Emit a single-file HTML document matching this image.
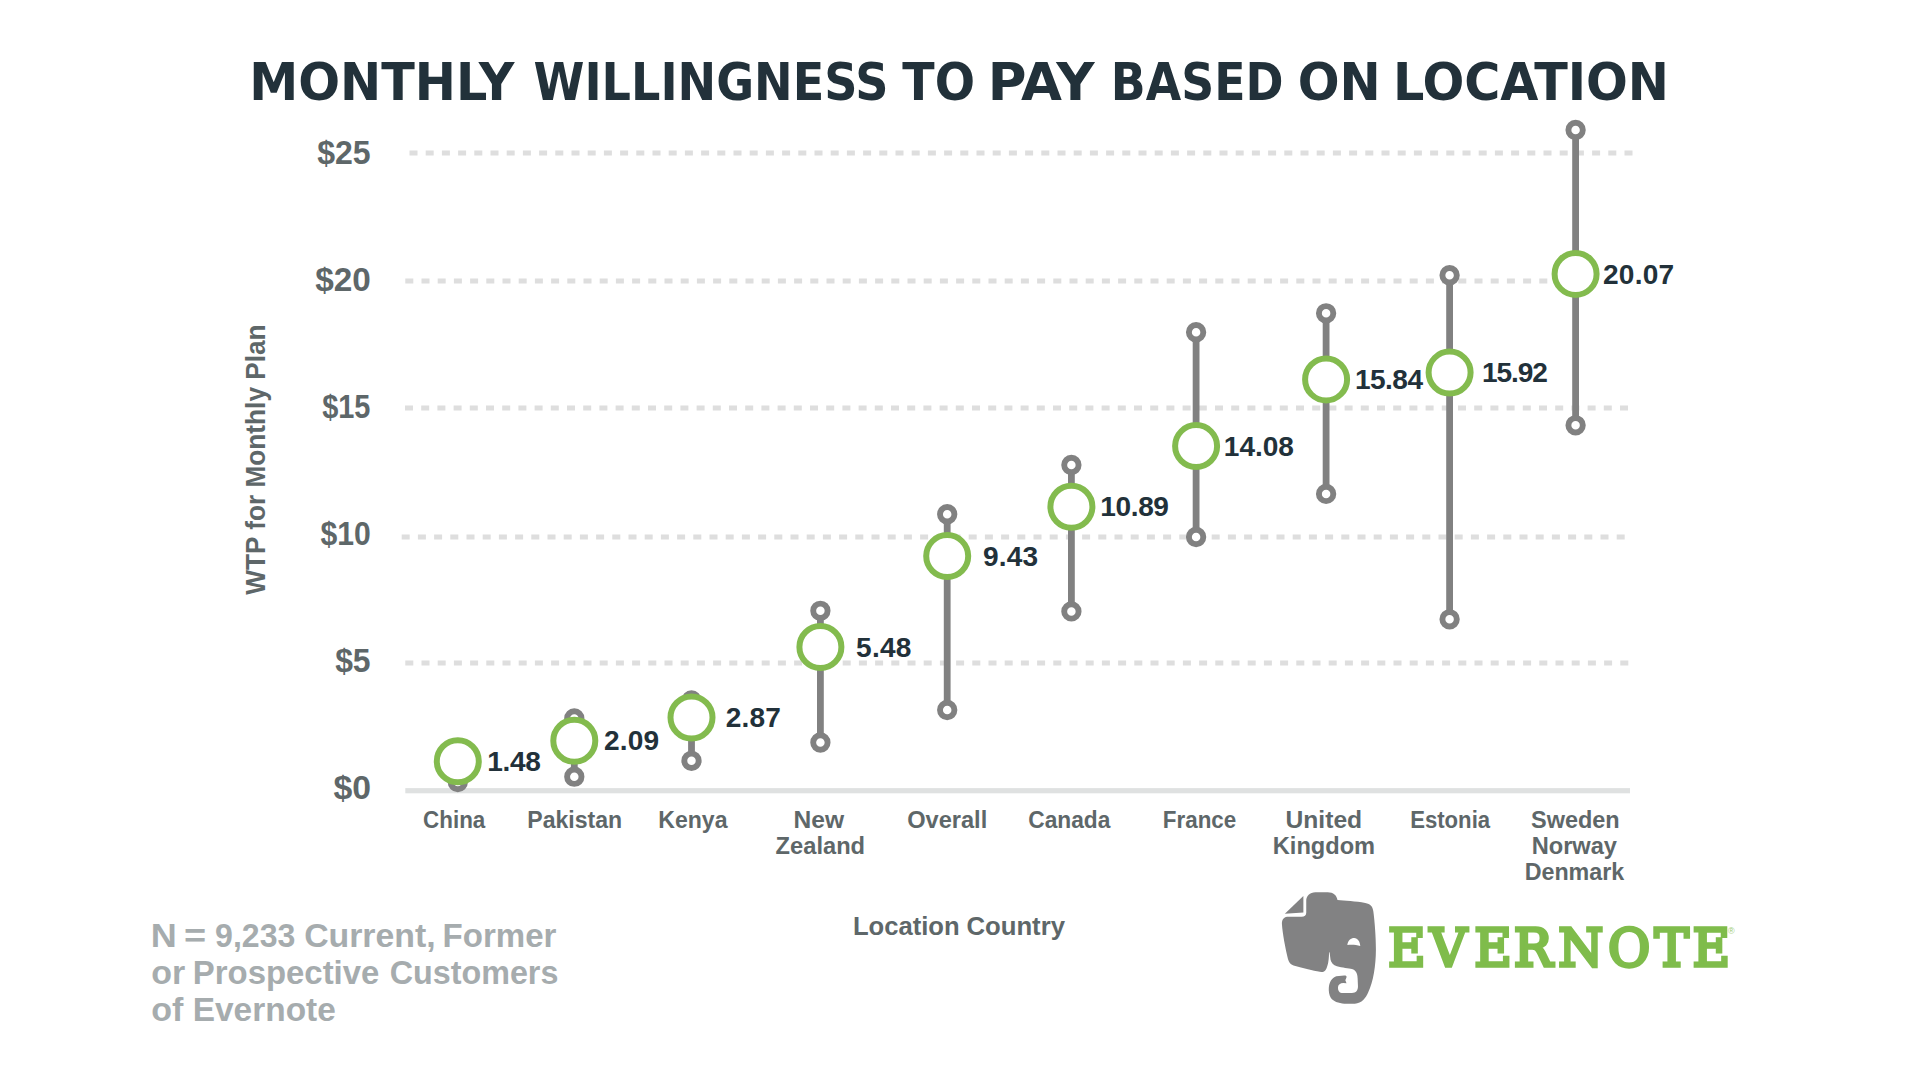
<!DOCTYPE html>
<html lang="en"><head><meta charset="utf-8"><title>Monthly Willingness to Pay Based on Location</title>
<style>html,body{margin:0;padding:0;background:#fff;overflow:hidden}svg{display:block}text{white-space:pre}</style></head>
<body>
<svg width="1920" height="1080">
<rect width="1920" height="1080" fill="#fff"/>
<text transform="translate(249.30,99.70) scale(1.0481,1)" font-family='"DejaVu Sans Condensed", "DejaVu Sans", "Liberation Sans", sans-serif' font-weight="bold" font-size="52.19" fill="#22313a">MONTHLY</text>
<text transform="translate(533.53,99.70) scale(0.9831,1)" font-family='"DejaVu Sans Condensed", "DejaVu Sans", "Liberation Sans", sans-serif' font-weight="bold" font-size="52.19" fill="#22313a">WILLINGNESS</text>
<text transform="translate(902.25,99.70) scale(1.0108,1)" font-family='"DejaVu Sans Condensed", "DejaVu Sans", "Liberation Sans", sans-serif' font-weight="bold" font-size="52.19" fill="#22313a">TO</text>
<text transform="translate(987.71,99.70) scale(1.1264,1)" font-family='"DejaVu Sans Condensed", "DejaVu Sans", "Liberation Sans", sans-serif' font-weight="bold" font-size="52.19" fill="#22313a">PAY</text>
<text transform="translate(1110.86,99.70) scale(0.9750,1)" font-family='"DejaVu Sans Condensed", "DejaVu Sans", "Liberation Sans", sans-serif' font-weight="bold" font-size="52.19" fill="#22313a">BASED</text>
<text transform="translate(1297.64,99.70) scale(1.0483,1)" font-family='"DejaVu Sans Condensed", "DejaVu Sans", "Liberation Sans", sans-serif' font-weight="bold" font-size="52.19" fill="#22313a">ON</text>
<text transform="translate(1393.05,99.70) scale(1.0481,1)" font-family='"DejaVu Sans Condensed", "DejaVu Sans", "Liberation Sans", sans-serif' font-weight="bold" font-size="52.19" fill="#22313a">LOCATION</text>
<line x1="409.5" y1="153" x2="1632.5" y2="153" stroke="#dedede" stroke-width="5" stroke-dasharray="8 8.2"/>
<line x1="405.3" y1="281" x2="1548" y2="281" stroke="#dedede" stroke-width="5" stroke-dasharray="8 8.2"/>
<line x1="405" y1="408" x2="1628.3" y2="408" stroke="#dedede" stroke-width="5" stroke-dasharray="8 8.2"/>
<line x1="401.7" y1="537" x2="1624.7" y2="537" stroke="#dedede" stroke-width="5" stroke-dasharray="8 8.2"/>
<line x1="405.3" y1="663" x2="1628.3" y2="663" stroke="#dedede" stroke-width="5" stroke-dasharray="8 8.2"/>
<rect x="405.3" y="788.1" width="1224.7" height="5.2" fill="#dfe1e1"/>
<text transform="translate(317.13,163.50) scale(0.9412,1)" font-family='"Liberation Sans", sans-serif' font-weight="bold" font-size="34.04" fill="#5e6769">$25</text>
<text transform="translate(315.21,290.60) scale(0.9800,1)" font-family='"Liberation Sans", sans-serif' font-weight="bold" font-size="34.04" fill="#5e6769">$20</text>
<text transform="translate(322.17,417.60) scale(0.8507,1)" font-family='"Liberation Sans", sans-serif' font-weight="bold" font-size="34.04" fill="#5e6769">$15</text>
<text transform="translate(320.46,544.60) scale(0.8855,1)" font-family='"Liberation Sans", sans-serif' font-weight="bold" font-size="34.04" fill="#5e6769">$10</text>
<text transform="translate(335.13,671.80) scale(0.9370,1)" font-family='"Liberation Sans", sans-serif' font-weight="bold" font-size="34.04" fill="#5e6769">$5</text>
<text transform="translate(333.40,799.00) scale(0.9917,1)" font-family='"Liberation Sans", sans-serif' font-weight="bold" font-size="34.04" fill="#5e6769">$0</text>
<g transform="translate(265,594.8) rotate(-90)"><text transform="translate(0.00,0.00) scale(0.9591,1)" font-family='"Liberation Sans", sans-serif' font-weight="bold" font-size="27.35" fill="#5e6769">WTP for Monthly Plan</text></g>
<line x1="457.8" y1="761.3" x2="457.8" y2="782" stroke="#818181" stroke-width="6.8"/>
<circle cx="457.8" cy="782" r="7.2" fill="#fff" stroke="#818181" stroke-width="5.9"/>
<circle cx="457.8" cy="761.3" r="21" fill="#fff" stroke="#83bb4e" stroke-width="6"/>
<text x="487.25" y="770.95" font-family='"Liberation Sans", sans-serif' font-weight="bold" font-size="28.07" fill="#22313a" letter-spacing="-0.333">1.48</text>
<line x1="574.3" y1="718.4" x2="574.3" y2="776.7" stroke="#818181" stroke-width="6.8"/>
<circle cx="574.3" cy="718.4" r="7.2" fill="#fff" stroke="#818181" stroke-width="5.9"/>
<circle cx="574.3" cy="776.7" r="7.2" fill="#fff" stroke="#818181" stroke-width="5.9"/>
<circle cx="574.3" cy="740.8" r="21" fill="#fff" stroke="#83bb4e" stroke-width="6"/>
<text x="604.00" y="750.45" font-family='"Liberation Sans", sans-serif' font-weight="bold" font-size="28.07" fill="#22313a" letter-spacing="0.167">2.09</text>
<line x1="691.5" y1="700.4" x2="691.5" y2="760.8" stroke="#818181" stroke-width="6.8"/>
<circle cx="691.5" cy="700.4" r="7.2" fill="#fff" stroke="#818181" stroke-width="5.9"/>
<circle cx="691.5" cy="760.8" r="7.2" fill="#fff" stroke="#818181" stroke-width="5.9"/>
<circle cx="691.5" cy="717.5" r="21" fill="#fff" stroke="#83bb4e" stroke-width="6"/>
<text x="725.70" y="727.15" font-family='"Liberation Sans", sans-serif' font-weight="bold" font-size="28.07" fill="#22313a" letter-spacing="0.150">2.87</text>
<line x1="820.4" y1="610.8" x2="820.4" y2="742.5" stroke="#818181" stroke-width="6.8"/>
<circle cx="820.4" cy="610.8" r="7.2" fill="#fff" stroke="#818181" stroke-width="5.9"/>
<circle cx="820.4" cy="742.5" r="7.2" fill="#fff" stroke="#818181" stroke-width="5.9"/>
<circle cx="820.4" cy="647" r="21" fill="#fff" stroke="#83bb4e" stroke-width="6"/>
<text x="856.00" y="656.65" font-family='"Liberation Sans", sans-serif' font-weight="bold" font-size="28.07" fill="#22313a" letter-spacing="0.283">5.48</text>
<line x1="947.2" y1="514.2" x2="947.2" y2="710" stroke="#818181" stroke-width="6.8"/>
<circle cx="947.2" cy="514.2" r="7.2" fill="#fff" stroke="#818181" stroke-width="5.9"/>
<circle cx="947.2" cy="710" r="7.2" fill="#fff" stroke="#818181" stroke-width="5.9"/>
<circle cx="947.2" cy="556.1" r="21" fill="#fff" stroke="#83bb4e" stroke-width="6"/>
<text x="982.90" y="565.75" font-family='"Liberation Sans", sans-serif' font-weight="bold" font-size="28.07" fill="#22313a" letter-spacing="0.200">9.43</text>
<line x1="1071.4" y1="465" x2="1071.4" y2="611.4" stroke="#818181" stroke-width="6.8"/>
<circle cx="1071.4" cy="465" r="7.2" fill="#fff" stroke="#818181" stroke-width="5.9"/>
<circle cx="1071.4" cy="611.4" r="7.2" fill="#fff" stroke="#818181" stroke-width="5.9"/>
<circle cx="1071.4" cy="506.7" r="21" fill="#fff" stroke="#83bb4e" stroke-width="6"/>
<text x="1100.25" y="516.35" font-family='"Liberation Sans", sans-serif' font-weight="bold" font-size="28.07" fill="#22313a" letter-spacing="-0.375">10.89</text>
<line x1="1196.1" y1="332.2" x2="1196.1" y2="537" stroke="#818181" stroke-width="6.8"/>
<circle cx="1196.1" cy="332.2" r="7.2" fill="#fff" stroke="#818181" stroke-width="5.9"/>
<circle cx="1196.1" cy="537" r="7.2" fill="#fff" stroke="#818181" stroke-width="5.9"/>
<circle cx="1196.1" cy="446.1" r="21" fill="#fff" stroke="#83bb4e" stroke-width="6"/>
<text x="1223.85" y="455.75" font-family='"Liberation Sans", sans-serif' font-weight="bold" font-size="28.07" fill="#22313a" letter-spacing="-0.075">14.08</text>
<line x1="1326.1" y1="313.3" x2="1326.1" y2="493.9" stroke="#818181" stroke-width="6.8"/>
<circle cx="1326.1" cy="313.3" r="7.2" fill="#fff" stroke="#818181" stroke-width="5.9"/>
<circle cx="1326.1" cy="493.9" r="7.2" fill="#fff" stroke="#818181" stroke-width="5.9"/>
<circle cx="1326.1" cy="379.4" r="21" fill="#fff" stroke="#83bb4e" stroke-width="6"/>
<text x="1354.95" y="389.05" font-family='"Liberation Sans", sans-serif' font-weight="bold" font-size="28.07" fill="#22313a" letter-spacing="-0.538">15.84</text>
<line x1="1449.6" y1="275.2" x2="1449.6" y2="619.3" stroke="#818181" stroke-width="6.8"/>
<circle cx="1449.6" cy="275.2" r="7.2" fill="#fff" stroke="#818181" stroke-width="5.9"/>
<circle cx="1449.6" cy="619.3" r="7.2" fill="#fff" stroke="#818181" stroke-width="5.9"/>
<circle cx="1449.6" cy="372.6" r="21" fill="#fff" stroke="#83bb4e" stroke-width="6"/>
<text x="1481.95" y="382.25" font-family='"Liberation Sans", sans-serif' font-weight="bold" font-size="28.07" fill="#22313a" letter-spacing="-1.062">15.92</text>
<line x1="1575.6" y1="130" x2="1575.6" y2="425.3" stroke="#818181" stroke-width="6.8"/>
<circle cx="1575.6" cy="130" r="7.2" fill="#fff" stroke="#818181" stroke-width="5.9"/>
<circle cx="1575.6" cy="425.3" r="7.2" fill="#fff" stroke="#818181" stroke-width="5.9"/>
<circle cx="1575.6" cy="273.9" r="21" fill="#fff" stroke="#83bb4e" stroke-width="6"/>
<text x="1603.00" y="283.55" font-family='"Liberation Sans", sans-serif' font-weight="bold" font-size="28.07" fill="#22313a" letter-spacing="0.250">20.07</text>
<text transform="translate(423.09,828.00) scale(0.9063,1)" font-family='"Liberation Sans", sans-serif' font-weight="bold" font-size="24.73" fill="#5e6769">China</text>
<text transform="translate(527.27,828.00) scale(0.9330,1)" font-family='"Liberation Sans", sans-serif' font-weight="bold" font-size="24.73" fill="#5e6769">Pakistan</text>
<text transform="translate(658.27,828.00) scale(0.9338,1)" font-family='"Liberation Sans", sans-serif' font-weight="bold" font-size="24.73" fill="#5e6769">Kenya</text>
<text transform="translate(793.56,828.00) scale(0.9939,1)" font-family='"Liberation Sans", sans-serif' font-weight="bold" font-size="24.73" fill="#5e6769">New</text>
<text transform="translate(775.58,853.60) scale(0.9582,1)" font-family='"Liberation Sans", sans-serif' font-weight="bold" font-size="24.73" fill="#5e6769">Zealand</text>
<text transform="translate(907.14,828.00) scale(0.9556,1)" font-family='"Liberation Sans", sans-serif' font-weight="bold" font-size="24.73" fill="#5e6769">Overall</text>
<text transform="translate(1028.28,828.00) scale(0.9186,1)" font-family='"Liberation Sans", sans-serif' font-weight="bold" font-size="24.73" fill="#5e6769">Canada</text>
<text transform="translate(1162.81,828.00) scale(0.9057,1)" font-family='"Liberation Sans", sans-serif' font-weight="bold" font-size="24.73" fill="#5e6769">France</text>
<text transform="translate(1285.51,828.00) scale(0.9966,1)" font-family='"Liberation Sans", sans-serif' font-weight="bold" font-size="24.73" fill="#5e6769">United</text>
<text transform="translate(1272.83,853.60) scale(0.9542,1)" font-family='"Liberation Sans", sans-serif' font-weight="bold" font-size="24.73" fill="#5e6769">Kingdom</text>
<text transform="translate(1410.13,828.00) scale(0.8957,1)" font-family='"Liberation Sans", sans-serif' font-weight="bold" font-size="24.73" fill="#5e6769">Estonia</text>
<text transform="translate(1530.99,828.00) scale(0.9490,1)" font-family='"Liberation Sans", sans-serif' font-weight="bold" font-size="24.73" fill="#5e6769">Sweden</text>
<text transform="translate(1531.63,853.70) scale(0.9559,1)" font-family='"Liberation Sans", sans-serif' font-weight="bold" font-size="24.73" fill="#5e6769">Norway</text>
<text transform="translate(1524.65,879.70) scale(0.9413,1)" font-family='"Liberation Sans", sans-serif' font-weight="bold" font-size="24.73" fill="#5e6769">Denmark</text>
<text transform="translate(852.90,935.40) scale(0.9732,1)" font-family='"Liberation Sans", sans-serif' font-weight="bold" font-size="26.33" fill="#5e6769">Location</text>
<text transform="translate(966.42,935.40) scale(0.9774,1)" font-family='"Liberation Sans", sans-serif' font-weight="bold" font-size="26.33" fill="#5e6769">Country</text>
<text transform="translate(150.87,947.40) scale(1.0821,1)" font-family='"Liberation Sans", sans-serif' font-weight="bold" font-size="33.31" fill="#a6acae">N</text>
<text transform="translate(184.09,947.40) scale(1.1394,1)" font-family='"Liberation Sans", sans-serif' font-weight="bold" font-size="33.31" fill="#a6acae">=</text>
<text transform="translate(215.10,947.40) scale(0.9622,1)" font-family='"Liberation Sans", sans-serif' font-weight="bold" font-size="33.31" fill="#a6acae">9,233</text>
<text transform="translate(304.13,947.40) scale(1.0151,1)" font-family='"Liberation Sans", sans-serif' font-weight="bold" font-size="33.31" fill="#a6acae">Current,</text>
<text transform="translate(442.57,947.40) scale(0.9920,1)" font-family='"Liberation Sans", sans-serif' font-weight="bold" font-size="33.31" fill="#a6acae">Former</text>
<text transform="translate(151.33,984.00) scale(1.0190,1)" font-family='"Liberation Sans", sans-serif' font-weight="bold" font-size="33.31" fill="#a6acae">or</text>
<text transform="translate(192.78,984.00) scale(0.9881,1)" font-family='"Liberation Sans", sans-serif' font-weight="bold" font-size="33.31" fill="#a6acae">Prospective</text>
<text transform="translate(389.69,984.00) scale(0.9699,1)" font-family='"Liberation Sans", sans-serif' font-weight="bold" font-size="33.31" fill="#a6acae">Customers</text>
<text transform="translate(151.32,1020.70) scale(1.0215,1)" font-family='"Liberation Sans", sans-serif' font-weight="bold" font-size="33.31" fill="#a6acae">of</text>
<text transform="translate(192.74,1020.70) scale(1.0039,1)" font-family='"Liberation Sans", sans-serif' font-weight="bold" font-size="33.31" fill="#a6acae">Evernote</text>
<g transform="translate(1275,885) scale(0.11571)" fill="#828283"><path d="M270,240 L270,135 C270,95 300,62 350,62 L455,62 C505,62 535,90 540,130 C600,133 700,142 780,155 C825,162 845,185 850,230 C862,320 872,450 872,560 C872,690 850,840 805,930 C785,975 750,1026 690,1026 L600,1026 C550,1024 500,1005 482,975 C468,950 463,915 465,890 C468,845 490,800 530,789 L598,782 C612,781 620,786 619,796 L608,824 L618,850 L590,847 C565,848 545,862 544,885 C544,912 555,930 575,933 L665,933 C700,932 717,912 717,875 L714,805 C712,765 700,738 665,727 C640,720 580,714 535,702 C505,694 485,670 480,645 L472,585 L467,578 C467,620 463,670 452,700 C445,728 428,757 400,752 C320,738 230,715 160,695 C135,688 120,670 112,640 C90,550 65,420 60,340 C58,300 75,280 105,275 L230,275 C255,275 270,262 270,240 Z"/><path d="M245,95 L245,238 L85,248 Z"/><path d="M625,518 C630,480 655,458 685,458 C715,458 735,490 737,527 C700,515 660,515 625,518 Z" fill="#fff"/></g>
<text x="1388.08 1429.65 1474.18 1513.78 1558.28 1607.97 1654.38 1692.38" y="965.70" font-family='"DejaVu Serif", "Liberation Serif", serif' font-weight="normal" font-size="51.51" fill="#7fbc4b" stroke="#7fbc4b" stroke-width="3.4" stroke-linejoin="miter">EVERNOTE</text>
<text x="1728" y="933.5" font-family='"Liberation Sans", sans-serif' font-size="9" fill="#9ccb74">®</text>
</svg>
</body></html>
